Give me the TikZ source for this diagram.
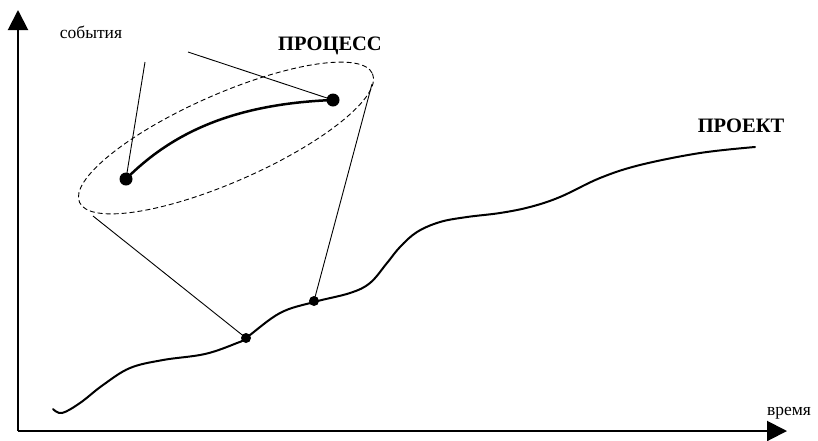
\documentclass[tikz,border=0pt]{standalone}
\usepackage{fontspec}
\setmainfont{Liberation Serif}
\usetikzlibrary{arrows.meta}
\begin{document}
\begin{tikzpicture}[x=1pt,y=-1pt,
  axis/.style={line width=2pt,-{Triangle[length=20pt,width=20pt]}},
  curve/.style={line width=2pt,line cap=round,line join=round},
  thin/.style={line width=0.9pt},
  bigdot/.style={circle,fill=black,inner sep=0pt,minimum size=13pt},
  smalldot/.style={circle,fill=black,inner sep=0pt,minimum size=10pt},
  lbl/.style={font=\fontsize{17.5}{20}\selectfont,inner sep=0pt},
  title/.style={font=\fontsize{20.5}{24}\selectfont\bfseries,inner sep=0pt}]
\useasboundingbox (0,0) rectangle (818,440);

% axes
\coordinate (O) at (18,431);
\coordinate (Ytop) at (18,10);
\coordinate (Xend) at (787,431);
\draw[axis] (O) -- (Ytop);
\draw[axis] (O) -- (Xend);

% event dots
\node[smalldot] (d1) at (246,338) {};
\node[smalldot] (d2) at (314,301) {};
\node[bigdot] (p1) at (126,179) {};
\node[bigdot] (p2) at (333,100) {};

% project curve
\draw[curve] plot[smooth,tension=0.6] coordinates {
  (53,409) (62,413) (80,403) (103,385) (130,368) (163,360) (205,354)
  (237,343) (246,338) (280,313) (314,302) (350,293)
  (370,283) (387,263) (400,247) (417,232) (440,222) (467,217) (500,213)
  (530,207) (560,197) (600,178) (640,165) (700,153) (755,147)};

% process curve
\draw[line width=2.5pt,line cap=round] (p1.center)
  .. controls (170,135) and (230,104) .. (p2.center);

% process ellipse
\coordinate (E) at (226,138);
\draw[thin,dash pattern=on 5pt off 3pt,rotate around={23.7:(E)}]
  (E) ellipse [x radius=160, y radius=44];

% leader lines
\coordinate (s1) at (145,62);
\coordinate (s2) at (188,52);
\coordinate (e1) at (93,216);
\coordinate (e2) at (372,84);
\draw[thin] (s1) -- (p1.center);
\draw[thin] (s2) -- (p2.center);
\draw[thin] (e1) -- (d1.center);
\draw[thin] (e2) -- (d2.center);

% labels
\node[lbl] (ev) at (91,32) {события};
\node[title] (proc) at (330,46) {ПРОЦЕСС};
\node[title] (proj) at (741,126) {ПРОЕКТ};
\node[lbl] (tm) at (789,413) {время};
\end{tikzpicture}
\end{document}
